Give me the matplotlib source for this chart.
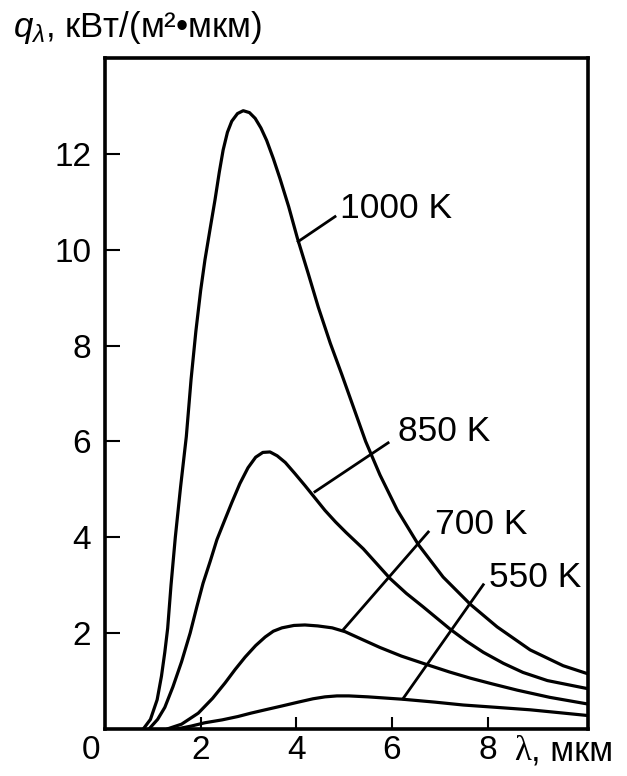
import matplotlib
matplotlib.use("Agg")
import matplotlib.pyplot as plt

plt.rcParams.update({
    "font.family": ["Liberation Sans", "DejaVu Sans"],
    "mathtext.fontset": "custom",
    "mathtext.rm": "Liberation Sans",
    "mathtext.it": "Liberation Sans:italic",
})

# spectral curves (lambda in mkm, q in kW/(m2*mkm))
x1000 = [0.80, 0.95, 1.09, 1.18, 1.25, 1.31, 1.38, 1.47, 1.58, 1.70, 1.80, 1.90, 2.00,
         2.09, 2.20, 2.30, 2.39, 2.47, 2.56, 2.65, 2.77, 2.89, 3.02, 3.14, 3.26, 3.38,
         3.52, 3.66, 3.84, 4.02, 4.25, 4.46, 4.71, 4.95, 5.20, 5.45, 5.75, 6.11, 6.55,
         7.07, 7.64, 8.20, 8.89, 9.58, 10.1]
y1000 = [0.00, 0.20, 0.61, 1.10, 1.60, 2.10, 3.00, 4.00, 5.05, 6.10, 7.30, 8.30, 9.15,
         9.79, 10.45, 11.04, 11.62, 12.08, 12.45, 12.68, 12.84, 12.90, 12.86, 12.74, 12.54, 12.28,
         11.90, 11.48, 10.90, 10.25, 9.50, 8.80, 8.05, 7.40, 6.70, 6.00, 5.30, 4.57, 3.85,
         3.17, 2.60, 2.13, 1.65, 1.32, 1.15]

x850 = [0.92, 1.10, 1.25, 1.42, 1.60, 1.78, 1.92, 2.05, 2.20, 2.34, 2.50, 2.65, 2.82,
        2.99, 3.15, 3.30, 3.45, 3.60, 3.77, 3.97, 4.18, 4.39, 4.60, 4.82, 5.04, 5.22,
        5.40, 5.68, 5.96, 6.30, 6.65, 7.22, 7.56, 7.91, 8.33, 8.74, 9.25, 9.70, 10.1]
y850 = [0.00, 0.20, 0.45, 0.88, 1.40, 2.00, 2.55, 3.04, 3.50, 3.95, 4.35, 4.72, 5.12,
        5.45, 5.67, 5.77, 5.78, 5.70, 5.56, 5.33, 5.08, 4.82, 4.56, 4.32, 4.10, 3.93,
        3.76, 3.45, 3.14, 2.83, 2.55, 2.08, 1.83, 1.60, 1.37, 1.18, 1.01, 0.92, 0.84]

x700 = [1.30, 1.60, 1.95, 2.25, 2.51, 2.72, 2.93, 3.15, 3.35, 3.52, 3.70, 3.95, 4.18,
        4.45, 4.75, 5.02, 5.35, 5.75, 6.20, 6.74, 7.20, 7.64, 8.10, 8.62, 9.30, 10.1]
y700 = [0.00, 0.10, 0.33, 0.64, 0.96, 1.24, 1.50, 1.74, 1.92, 2.04, 2.11, 2.16, 2.17,
        2.15, 2.11, 2.03, 1.88, 1.70, 1.52, 1.34, 1.19, 1.06, 0.94, 0.81, 0.66, 0.52]

x550 = [1.50, 1.80, 2.09, 2.45, 2.78, 3.05, 3.35, 3.70, 4.04, 4.35, 4.60, 4.85, 5.10,
        5.50, 6.23, 6.90, 7.49, 8.20, 8.89, 9.50, 10.1]
y550 = [0.00, 0.06, 0.13, 0.19, 0.26, 0.33, 0.40, 0.48, 0.56, 0.63, 0.67, 0.69, 0.69,
        0.67, 0.62, 0.56, 0.50, 0.45, 0.40, 0.34, 0.28]

labels = ["1000 K", "850 K", "700 K", "550 K"]
# leader line: point on curve -> outer end, then where the label text starts
lead_from = [(4.04, 10.17), (4.39, 4.95), (4.98, 2.07), (6.23, 0.63)]
lead_to = [(4.81, 10.69), (5.92, 5.97), (6.76, 4.11), (7.91, 3.01)]
label_at = [(4.92, 10.86), (6.13, 6.20), (6.90, 4.26), (8.03, 3.17)]

yticks = [2, 4, 6, 8, 10, 12]
xticks = [2, 4, 6, 8]

fig = plt.figure(figsize=(6.27, 7.76), dpi=100)
ax = fig.add_axes([0.1675, 0.0606, 0.7703, 0.8647])

for xs, ys in [(x1000, y1000), (x850, y850), (x700, y700), (x550, y550)]:
    ax.plot(xs, ys, color="black", linewidth=2.3, solid_joinstyle="round",
            solid_capstyle="round")

for lab, p0, p1, pt in zip(labels, lead_from, lead_to, label_at):
    ax.plot([p0[0], p1[0]], [p0[1], p1[1]], color="black", linewidth=2.0)
    ax.text(pt[0], pt[1], lab, fontsize=25.5, ha="left", va="center")

ax.set_xlim(0, 10.1)
ax.set_ylim(0, 14.0)

ax.set_yticks(yticks)
ax.set_yticklabels([str(t) for t in yticks])
ax.set_xticks(xticks)
ax.set_xticklabels([str(t) for t in xticks])
ax.tick_params(axis="y", direction="in", length=11, width=1.5, labelsize=24, pad=10)
ax.tick_params(axis="x", direction="in", length=8.5, width=1.5, labelsize=24, pad=4)

for s in ax.spines.values():
    s.set_linewidth(2.6)

ax.annotate("0", xy=(0, 0), xytext=(-10, -4), textcoords="offset points",
            fontsize=24, ha="center", va="top")
ax.annotate("λ", xy=(8.55, 0), xytext=(0, -4), textcoords="offset points",
            fontsize=25, ha="left", va="top", family="Liberation Serif")
ax.annotate(", мкм", xy=(8.55, 0), xytext=(12, -4), textcoords="offset points",
            fontsize=25, ha="left", va="top")

fig.text(0.02, 0.988, r"$q_\lambda$, кВт/(м²•мкм)", fontsize=25, ha="left", va="top")

fig.savefig("out.png", dpi=100)
